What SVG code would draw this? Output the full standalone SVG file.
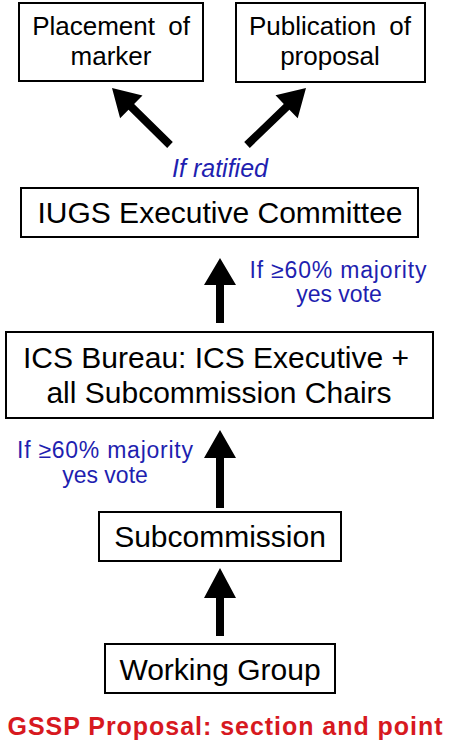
<svg xmlns="http://www.w3.org/2000/svg" width="450" height="748" viewBox="0 0 450 748">
<style>
.box{fill:#fff;stroke:#000;stroke-width:2}
.t{font-family:"Liberation Sans",Arial,sans-serif;fill:#000;text-anchor:middle}
.b{font-family:"Liberation Sans",Arial,sans-serif;fill:#1f1fb0;text-anchor:middle;font-size:23px}
.arr{fill:#000}
</style>
<rect width="450" height="748" fill="#fff"/>
<g id="placement">
<rect class="box" x="19" y="3" width="184" height="78"/>
<text class="t" x="111" y="35" font-size="26" word-spacing="6">Placement of</text>
<text class="t" x="111" y="65" font-size="26">marker</text>
</g>
<g id="publication">
<rect class="box" x="236" y="3" width="189" height="79"/>
<text class="t" x="330" y="35" font-size="26" word-spacing="6">Publication of</text>
<text class="t" x="330" y="65" font-size="26">proposal</text>
</g>
<g id="iugs">
<rect class="box" x="21" y="188" width="397" height="49"/>
<text class="t" x="220" y="223" font-size="30">IUGS Executive Committee</text>
</g>
<g id="ics">
<rect class="box" x="6" y="332" width="427" height="86"/>
<text class="t" x="216" y="368" font-size="30">ICS Bureau: ICS Executive +</text>
<text class="t" x="219" y="403" font-size="30">all Subcommission Chairs</text>
</g>
<g id="subcommission">
<rect class="box" x="99" y="512" width="242" height="49"/>
<text class="t" x="220" y="547" font-size="30">Subcommission</text>
</g>
<g id="working">
<rect class="box" x="105" y="644" width="230" height="49"/>
<text class="t" x="220" y="680" font-size="30">Working Group</text>
</g>
<g id="connectors">
<polygon class="arr" points="112,88 142.5,95.5 134.1,104 172.8,142.1 167.2,147.9 128.5,109.8 120.1,118.3"/>
<polygon class="arr" points="306,88 297.7,118.3 289.4,109.7 249.8,147.9 244.2,142.1 283.8,103.9 275.5,95.3"/>
<polygon class="arr" points="220,258 236,285 224,285 224,323 216,323 216,285 204,285"/>
<polygon class="arr" points="220,430 236,458 224,458 224,508 216,508 216,458 204,458"/>
<polygon class="arr" points="220,568 236,598 224,598 224,636 216,636 216,598 204,598"/>
</g>
<g id="labels">
<text class="b" x="220" y="177" font-size="25" font-style="italic" style="font-size:25px">If ratified</text>
<text class="b" x="338" y="278" textLength="177">If ≥60% majority</text>
<text class="b" x="339" y="302">yes vote</text>
<text class="b" x="105" y="458" textLength="176">If ≥60% majority</text>
<text class="b" x="105" y="483">yes vote</text>
<text x="225" y="735" font-family="'Liberation Sans',Arial,sans-serif" font-weight="bold" font-size="25" fill="#d7191f" text-anchor="middle" textLength="435">GSSP Proposal: section and point</text>
</g>
</svg>
